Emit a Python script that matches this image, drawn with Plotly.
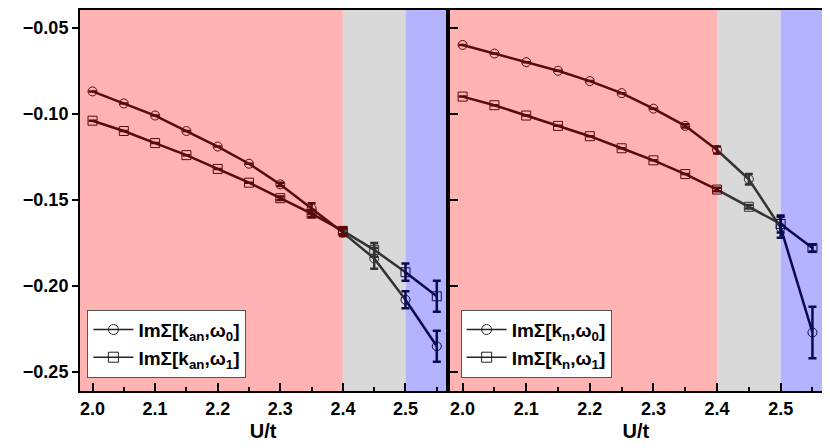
import plotly.graph_objects as go
from plotly.subplots import make_subplots

# DATA
u = [2.0, 2.05, 2.1, 2.15, 2.2, 2.25, 2.3, 2.35, 2.4, 2.45, 2.5, 2.55]

an_w0 = [-0.087, -0.094, -0.101, -0.110, -0.119, -0.129, -0.141, -0.155, -0.169, -0.184, -0.208, -0.235]
an_w0_err = [0, 0, 0, 0, 0, 0, 0.001, 0.003, 0.002, 0.006, 0.005, 0.009]
an_w1 = [-0.104, -0.110, -0.117, -0.124, -0.132, -0.140, -0.149, -0.158, -0.168, -0.179, -0.192, -0.206]
an_w1_err = [0, 0, 0, 0, 0, 0, 0.001, 0.002, 0.002, 0.004, 0.005, 0.009]

n_w0 = [-0.060, -0.065, -0.070, -0.075, -0.081, -0.088, -0.097, -0.107, -0.121, -0.138, -0.166, -0.227]
n_w0_err = [0, 0, 0, 0, 0, 0, 0, 0.001, 0.002, 0.003, 0.006, 0.015]
n_w1 = [-0.090, -0.095, -0.101, -0.107, -0.113, -0.120, -0.127, -0.135, -0.144, -0.154, -0.164, -0.178]
n_w1_err = [0, 0, 0, 0, 0, 0, 0, 0, 0.001, 0.001, 0.005, 0.002]

x_ticks = [2.0, 2.1, 2.2, 2.3, 2.4, 2.5]
y_ticks = [-0.25, -0.2, -0.15, -0.1, -0.05]
y_ticktext = ['−0.25', '−0.20', '−0.15', '−0.10', '−0.05']

# REGIONS: (start index, end index, line colour, background colour, x0, x1)
regions = [(0, 8, '#5a0a0a', '#ffb3b3', 1.98, 2.4),
           (8, 10, '#333333', '#d9d9d9', 2.4, 2.5),
           (10, 11, '#0a0a50', '#b3b3ff', 2.5, 2.565)]

fig = make_subplots(rows=1, cols=2, shared_yaxes=True, horizontal_spacing=0.005)

for col in (1, 2):
    for i0, i1, lc, bg, x0, x1 in regions:
        fig.add_shape(type='rect', x0=x0, x1=x1, y0=0, y1=1,
                      xref='x' if col == 1 else 'x2',
                      yref='y domain' if col == 1 else 'y2 domain',
                      fillcolor=bg, line_width=0, layer='below')


def add_series(col, y, err, symbol):
    for i0, i1, lc, bg, x0, x1 in regions:
        fig.add_trace(go.Scatter(x=u[i0:i1 + 1], y=y[i0:i1 + 1], mode='lines',
                                 line=dict(color=lc, width=2.5), showlegend=False,
                                 hoverinfo='skip'), row=1, col=col)
    # markers coloured by region, each point once
    groups = [(0, 8, '#5a0a0a'), (9, 9, '#333333'), (10, 11, '#0a0a50')]
    for i0, i1, mc in groups:
        fig.add_trace(go.Scatter(x=u[i0:i1 + 1], y=y[i0:i1 + 1], mode='markers',
                                 marker=dict(symbol=symbol + '-open', size=9,
                                             color=mc, line=dict(width=1)),
                                 error_y=dict(type='data', array=err[i0:i1 + 1],
                                              color=mc, thickness=2.5, width=4),
                                 showlegend=False), row=1, col=col)


add_series(1, an_w0, an_w0_err, 'circle')
add_series(1, an_w1, an_w1_err, 'square')
add_series(2, n_w0, n_w0_err, 'circle')
add_series(2, n_w1, n_w1_err, 'square')

# LEGEND ENTRIES
labels = [('legend', 'ImΣ[k<sub>an</sub>,ω<sub>0</sub>]', 'circle'),
          ('legend', 'ImΣ[k<sub>an</sub>,ω<sub>1</sub>]', 'square'),
          ('legend2', 'ImΣ[k<sub>n</sub>,ω<sub>0</sub>]', 'circle'),
          ('legend2', 'ImΣ[k<sub>n</sub>,ω<sub>1</sub>]', 'square')]
for lg, name, sym in labels:
    fig.add_trace(go.Scatter(x=[None], y=[None], mode='lines+markers', name=name,
                             legend=lg, line=dict(color='#222222', width=1.5),
                             marker=dict(symbol=sym + '-open', size=10, color='#222222')),
                  row=1, col=1 if lg == 'legend' else 2)

boldfont = dict(family='Liberation Sans', size=18, color='black', weight='bold')

legstyle = dict(bgcolor='white', bordercolor='#555555', borderwidth=1,
                font=dict(boldfont, size=19), itemwidth=40,
                yanchor='bottom', xanchor='left', tracegroupgap=0)

axis = dict(range=[1.98, 2.565], tickvals=x_ticks, tickformat='.1f',
            ticks='inside', ticklen=8, tickwidth=2, tickcolor='black',
            minor=dict(ticks='inside', ticklen=4, dtick=0.05, tickcolor='black'),
            showgrid=False, zeroline=False, showline=True, linewidth=2, linecolor='black',
            mirror=True, tickfont=boldfont,
            title=dict(text='U/t', font=dict(boldfont, size=20), standoff=6))

fig.update_layout(
    width=830, height=448, plot_bgcolor='white', paper_bgcolor='white',
    margin=dict(l=72, r=16, t=0, b=65),
    xaxis=dict(axis, domain=[0, 0.4935]),
    xaxis2=dict(axis, domain=[0.4985, 1]),
    yaxis=dict(range=[-0.261, -0.0397], tickvals=y_ticks, ticktext=y_ticktext,
               ticks='outside', ticklen=6, tickwidth=2, tickcolor='black',
               showgrid=False, zeroline=False, showline=True, linewidth=2, linecolor='black',
               mirror='allticks', tickfont=boldfont),
    yaxis2=dict(showgrid=False, zeroline=False, showline=True, linewidth=2, linecolor='black',
                mirror=True, ticks='inside', ticklen=8, tickwidth=2, tickcolor='black',
                tickvals=y_ticks, showticklabels=False),
    legend=dict(legstyle, x=0.01, y=0.035),
    legend2=dict(legstyle, x=0.513, y=0.035),
)

fig.write_html('out.html')
